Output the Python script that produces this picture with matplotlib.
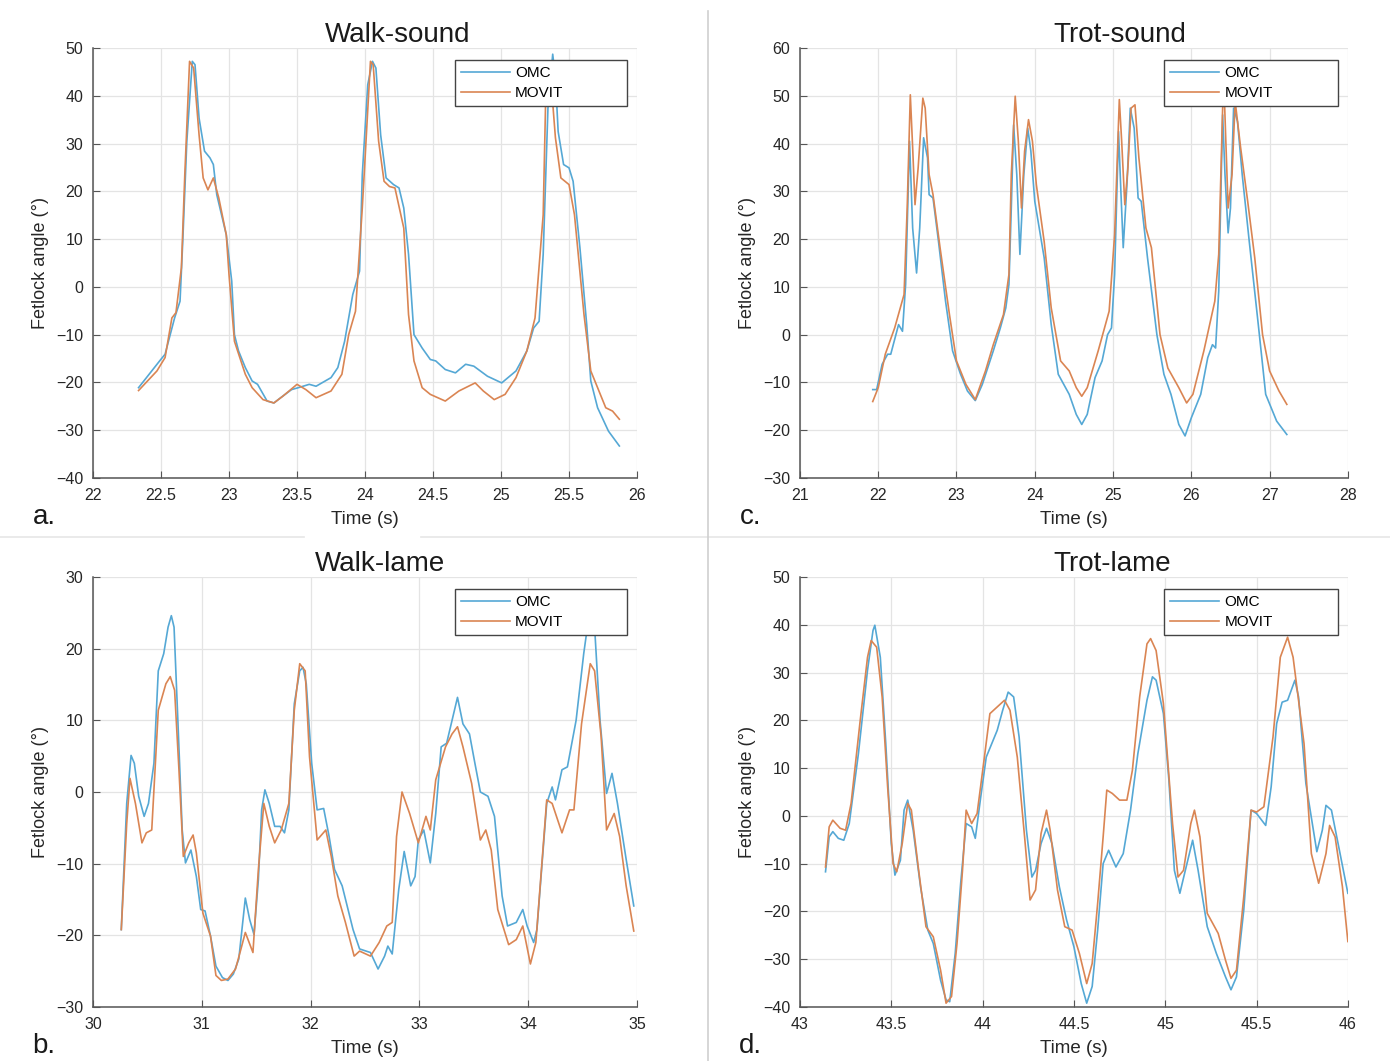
import matplotlib
matplotlib.use("Agg")
import matplotlib.pyplot as plt
from matplotlib.lines import Line2D

plt.rcParams['font.family'] = ['Liberation Sans', 'DejaVu Sans']

OMC_COLOR = "#55a8d5"
MOVIT_COLOR = "#da8553"

# ---- Walk-sound (a) ----
ws_t_omc = [22.335, 22.49, 22.53, 22.60, 22.64, 22.66, 22.69, 22.73, 22.75, 22.78, 22.82, 22.86, 22.885,
            22.91, 22.98, 23.02, 23.04, 23.07, 23.12, 23.17, 23.21, 23.28, 23.33, 23.38, 23.46, 23.51,
            23.59, 23.64, 23.75, 23.80, 23.85, 23.91, 23.96, 23.98, 24.02, 24.055, 24.08, 24.115, 24.155,
            24.21, 24.25, 24.285, 24.32, 24.36, 24.42, 24.48, 24.52, 24.59, 24.665, 24.74, 24.80, 24.90,
            25.005, 25.11, 25.19, 25.24, 25.28, 25.31, 25.345, 25.38, 25.40, 25.42, 25.46, 25.50, 25.53,
            25.58, 25.63, 25.66, 25.71, 25.79, 25.87]
ws_omc = [-21.1, -15.5, -14.1, -6.5, -3.0, 9.5, 30.5, 47.2, 46.5, 35.3, 28.4, 27.0, 25.6,
          19.3, 10.9, 1.2, -10.0, -13.4, -16.9, -19.7, -20.4, -23.9, -24.3, -23.2, -21.5, -21.1,
          -20.4, -20.8, -19.0, -16.9, -11.4, -1.6, 3.3, 23.5, 42.3, 47.2, 45.8, 31.8, 22.8,
          21.4, 20.7, 16.5, 6.8, -10.0, -12.8, -15.2, -15.5, -17.3, -18.0, -16.2, -16.6, -18.7,
          -20.1, -17.6, -13.4, -8.6, -7.2, 6.8, 37.4, 48.7, 43.7, 32.5, 25.6, 24.9, 22.1,
          8.2, -7.9, -19.7, -25.3, -30.2, -33.3]
ws_t_movit = [22.335, 22.47, 22.53, 22.58, 22.61, 22.65, 22.675, 22.71, 22.74, 22.78, 22.81, 22.845,
              22.885, 22.925, 22.98, 23.0, 23.04, 23.12, 23.17, 23.25, 23.33, 23.395, 23.5, 23.565,
              23.64, 23.75, 23.83, 23.88, 23.93, 23.98, 24.04, 24.06, 24.10, 24.14, 24.18, 24.22,
              24.285, 24.32, 24.36, 24.42, 24.48, 24.59, 24.69, 24.81, 24.87, 24.95, 25.03, 25.11,
              25.19, 25.25, 25.31, 25.33, 25.36, 25.40, 25.44, 25.50, 25.54, 25.61, 25.66, 25.71,
              25.77, 25.82, 25.87]
ws_movit = [-21.7, -17.6, -14.8, -6.5, -5.4, 4.0, 23.5, 47.2, 45.8, 31.8, 22.8, 20.3,
            22.8, 18.6, 10.9, 2.6, -11.4, -18.3, -21.1, -23.6, -24.3, -22.9, -20.4, -21.5,
            -23.2, -21.8, -18.3, -10.0, -5.1, 16.5, 47.2, 46.5, 30.5, 22.1, 21.0, 20.7,
            12.3, -5.8, -15.5, -21.1, -22.5, -23.9, -21.8, -20.1, -21.8, -23.6, -22.5, -19.0,
            -13.4, -6.5, 15.1, 41.6, 45.8, 31.2, 22.8, 21.4, 15.1, -5.8, -17.6, -21.1,
            -25.3, -26.0, -27.7]

# ---- Trot-sound (c) ----
ts_t_omc = [21.93, 21.98, 22.05, 22.12, 22.16, 22.26, 22.31, 22.35, 22.40, 22.44, 22.49, 22.53, 22.58,
            22.63, 22.65, 22.70, 22.77, 22.86, 22.95, 23.05, 23.14, 23.24, 23.33, 23.47, 23.56, 23.63,
            23.67, 23.70, 23.73, 23.77, 23.81, 23.86, 23.91, 23.95, 24.0, 24.12, 24.21, 24.30, 24.44,
            24.53, 24.60, 24.67, 24.77, 24.86, 24.93, 24.98, 25.02, 25.07, 25.10, 25.13, 25.18, 25.22,
            25.27, 25.32, 25.36, 25.44, 25.56, 25.65, 25.74, 25.84, 25.92, 26.0, 26.12, 26.21, 26.27,
            26.31, 26.35, 26.40, 26.43, 26.47, 26.50, 26.54, 26.59, 26.65, 26.74, 26.86, 26.95, 27.09,
            27.22]
ts_omc = [-11.5, -11.5, -6.2, -4.1, -4.1, 2.1, 0.7, 10.5, 40.5, 22.3, 12.9, 22.3, 41.2,
          37.0, 29.3, 28.6, 19.5, 7.0, -3.4, -8.2, -11.8, -13.8, -10.4, -3.4, 1.4, 5.6,
          10.5, 26.5, 43.9, 33.5, 16.8, 33.5, 43.2, 38.4, 27.9, 16.1, 2.1, -8.3, -12.5,
          -16.7, -18.8, -16.7, -9.0, -5.5, 0.0, 1.4, 12.6, 42.5, 30.0, 18.2, 32.1, 47.4,
          43.2, 28.6, 27.9, 16.1, 0.0, -8.3, -12.5, -18.8, -21.2, -17.4, -12.5, -4.8, -2.1,
          -2.8, 9.1, 46.0, 33.5, 21.3, 26.5, 47.4, 44.6, 33.5, 19.5, 1.4, -12.5, -18.1,
          -20.9]
ts_t_movit = [21.93, 22.0, 22.09, 22.21, 22.33, 22.37, 22.41, 22.44, 22.47, 22.51, 22.57, 22.60, 22.65,
              22.70, 22.79, 22.91, 23.0, 23.12, 23.24, 23.37, 23.47, 23.60, 23.67, 23.70, 23.75, 23.79,
              23.83, 23.87, 23.92, 23.97, 24.02, 24.12, 24.21, 24.33, 24.44, 24.53, 24.60, 24.67, 24.81,
              24.95, 25.02, 25.08, 25.11, 25.15, 25.19, 25.23, 25.28, 25.33, 25.42, 25.49, 25.60, 25.70,
              25.84, 25.94, 26.02, 26.16, 26.30, 26.35, 26.40, 26.42, 26.47, 26.52, 26.56, 26.63, 26.72,
              26.81, 26.91, 27.0, 27.12, 27.22]
ts_movit = [-14.0, -11.1, -4.1, 1.4, 8.4, 26.5, 50.2, 39.1, 27.2, 34.9, 49.5, 47.4, 33.5,
            29.3, 18.2, 4.2, -5.5, -10.4, -13.6, -7.6, -2.1, 4.2, 12.6, 33.5, 49.9, 40.5,
            26.5, 38.4, 45.0, 40.5, 31.4, 19.5, 5.6, -5.5, -7.6, -11.1, -12.9, -11.1, -3.4,
            4.9, 20.9, 49.2, 40.5, 27.2, 34.9, 47.4, 48.1, 37.0, 22.3, 18.2, 0.0, -7.0,
            -11.1, -14.3, -12.5, -3.4, 7.0, 16.8, 47.4, 50.5, 26.5, 33.5, 48.8, 39.1, 27.9,
            16.1, 0.0, -7.6, -11.8, -14.6]

# ---- Walk-lame (b) ----
wl_t_omc = [30.26, 30.31, 30.35, 30.38, 30.42, 30.47, 30.51, 30.56, 30.60, 30.65, 30.69, 30.72, 30.745,
            30.78, 30.82, 30.85, 30.90, 30.95, 30.99, 31.03, 31.08, 31.13, 31.19, 31.24, 31.29, 31.34,
            31.40, 31.44, 31.48, 31.52, 31.55, 31.58, 31.62, 31.67, 31.72, 31.76, 31.80, 31.85, 31.90,
            31.93, 31.96, 32.01, 32.06, 32.12, 32.17, 32.22, 32.29, 32.39, 32.45, 32.55, 32.62, 32.68,
            32.71, 32.75, 32.81, 32.86, 32.92, 32.96, 32.99, 33.04, 33.10, 33.15, 33.20, 33.25, 33.30,
            33.35, 33.40, 33.46, 33.51, 33.56, 33.63, 33.69, 33.76, 33.81, 33.89, 33.95, 33.99, 34.05,
            34.08, 34.17, 34.22, 34.25, 34.31, 34.36, 34.44, 34.51, 34.56, 34.61, 34.66, 34.72, 34.77,
            34.82, 34.90, 34.97]
wl_omc = [-19.2, -1.6, 5.1, 4.0, -0.6, -3.4, -1.6, 4.0, 16.9, 19.3, 23.0, 24.6, 23.0,
          10.0, -5.3, -9.9, -8.1, -11.8, -16.4, -16.6, -20.1, -24.3, -25.9, -26.3, -25.4, -23.3,
          -14.8, -17.8, -19.9, -12.2, -2.5, 0.3, -1.6, -4.8, -4.8, -5.7, -2.5, 12.3, 16.9,
          17.4, 15.1, 4.0, -2.5, -2.3, -6.2, -10.8, -13.1, -19.2, -21.9, -22.4, -24.7, -22.9,
          -21.5, -22.6, -13.6, -8.3, -13.1, -11.8, -6.7, -5.3, -9.9, -3.0, 6.3, 6.8, 10.0,
          13.2, 9.5, 8.1, 4.0, 0.0, -0.6, -3.4, -14.5, -18.7, -18.2, -16.4, -18.7, -21.0,
          -19.2, -1.6, 0.7, -1.1, 3.1, 3.5, 10.0, 19.3, 24.8, 23.0, 10.0, -0.2, 2.6,
          -1.6, -9.4, -15.9]
wl_t_movit = [30.26, 30.31, 30.34, 30.39, 30.45, 30.49, 30.54, 30.60, 30.67, 30.71, 30.75, 30.79, 30.83,
              30.88, 30.92, 30.95, 31.01, 31.08, 31.13, 31.18, 31.24, 31.31, 31.36, 31.40, 31.47, 31.52,
              31.57, 31.62, 31.67, 31.73, 31.80, 31.85, 31.90, 31.95, 31.99, 32.06, 32.14, 32.19, 32.25,
              32.32, 32.40, 32.45, 32.55, 32.63, 32.70, 32.75, 32.79, 32.84, 32.91, 32.99, 33.06, 33.10,
              33.15, 33.24, 33.30, 33.35, 33.40, 33.48, 33.56, 33.61, 33.66, 33.72, 33.82, 33.89, 33.95,
              34.02, 34.07, 34.17, 34.22, 34.31, 34.38, 34.42, 34.49, 34.57, 34.61, 34.67, 34.72, 34.79,
              34.84, 34.90, 34.97]
wl_movit = [-19.2, -4.4, 1.9, -1.6, -7.1, -5.7, -5.3, 11.4, 15.1, 16.1, 14.2, 3.1, -9.0,
            -7.1, -6.0, -8.5, -16.9, -20.1, -25.6, -26.3, -26.1, -24.7, -21.9, -19.6, -22.4, -10.8,
            -1.6, -4.8, -7.1, -5.3, -1.6, 11.4, 17.9, 16.9, 4.9, -6.7, -5.3, -9.0, -14.5,
            -18.2, -22.9, -22.2, -22.9, -21.0, -18.7, -18.2, -6.2, 0.0, -3.0, -7.1, -3.4, -5.3,
            1.7, 6.3, 8.1, 9.1, 6.3, 1.2, -6.7, -5.3, -8.1, -16.4, -21.3, -20.6, -18.7,
            -24.0, -21.0, -1.1, -1.6, -5.7, -2.5, -2.5, 9.5, 17.9, 16.9, 7.7, -5.3, -3.0,
            -6.2, -13.1, -19.4]

# ---- Trot-lame (d) ----
tl_t_omc = [43.14, 43.16, 43.18, 43.21, 43.24, 43.27, 43.32, 43.37, 43.40, 43.41, 43.44, 43.47, 43.50,
            43.52, 43.55, 43.57, 43.59, 43.62, 43.66, 43.70, 43.73, 43.77, 43.80, 43.82, 43.85, 43.88,
            43.91, 43.94, 43.96, 43.99, 44.02, 44.05, 44.08, 44.11, 44.14, 44.17, 44.20, 44.24, 44.27,
            44.29, 44.32, 44.35, 44.38, 44.42, 44.46, 44.50, 44.54, 44.57, 44.60, 44.63, 44.66, 44.69,
            44.73, 44.77, 44.81, 44.85, 44.90, 44.93, 44.95, 44.99, 45.02, 45.05, 45.08, 45.11, 45.15,
            45.18, 45.23, 45.28, 45.33, 45.36, 45.39, 45.43, 45.47, 45.50, 45.55, 45.58, 45.61, 45.64,
            45.67, 45.69, 45.71, 45.73, 45.77, 45.83, 45.86, 45.88, 45.91, 45.95, 46.0]
tl_omc = [-11.7, -4.4, -3.3, -4.7, -5.1, -1.6, 13.0, 30.5, 38.8, 39.9, 33.2, 15.1, -5.8,
          -12.4, -9.3, 1.2, 3.3, -3.0, -14.8, -23.9, -26.7, -34.4, -38.5, -38.9, -28.8, -14.1,
          -1.6, -2.3, -4.7, 4.0, 12.3, 15.1, 17.9, 22.1, 25.9, 24.9, 16.5, -3.0, -12.8,
          -11.4, -5.8, -2.6, -5.8, -14.8, -21.8, -27.4, -35.1, -39.2, -35.7, -23.9, -10.0, -7.2,
          -10.7, -7.9, 1.2, 13.0, 24.2, 29.1, 28.4, 21.4, 7.5, -11.4, -16.2, -11.4, -5.1,
          -11.4, -23.2, -28.8, -33.7, -36.4, -33.7, -19.7, 1.2, 0.5, -2.0, 6.1, 19.3, 23.8,
          24.2, 26.3, 28.4, 24.9, 6.8, -7.5, -3.0, 2.2, 1.2, -6.5, -16.2]
tl_t_movit = [43.14, 43.16, 43.18, 43.22, 43.25, 43.28, 43.33, 43.37, 43.39, 43.42, 43.45, 43.48, 43.51,
              43.53, 43.56, 43.59, 43.61, 43.65, 43.69, 43.73, 43.77, 43.80, 43.83, 43.86, 43.89, 43.91,
              43.94, 43.97, 44.01, 44.04, 44.08, 44.12, 44.15, 44.19, 44.23, 44.26, 44.29, 44.32, 44.35,
              44.37, 44.41, 44.45, 44.49, 44.53, 44.57, 44.60, 44.63, 44.66, 44.68, 44.71, 44.75, 44.79,
              44.82, 44.86, 44.90, 44.92, 44.95, 44.99, 45.04, 45.07, 45.10, 45.14, 45.16, 45.19, 45.23,
              45.29, 45.33, 45.36, 45.39, 45.43, 45.47, 45.50, 45.54, 45.59, 45.63, 45.67, 45.70, 45.76,
              45.80, 45.84, 45.88, 45.90, 45.93, 45.97, 46.0]
tl_movit = [-10.7, -2.3, -0.9, -2.6, -3.0, 2.6, 20.0, 33.2, 36.7, 35.3, 24.9, 6.1, -10.0,
            -11.7, -5.8, 2.6, 1.2, -11.4, -23.2, -25.3, -32.3, -39.2, -37.8, -26.7, -11.4, 1.2,
            -1.6, 0.5, 12.3, 21.4, 22.8, 24.2, 22.1, 12.3, -4.4, -17.6, -15.5, -3.7, 1.2,
            -3.0, -15.5, -23.2, -23.9, -28.8, -35.1, -30.9, -18.3, -4.4, 5.4, 4.7, 3.3, 3.3,
            9.5, 24.9, 36.0, 37.1, 34.6, 23.5, -1.6, -12.8, -11.4, -1.6, 1.2, -4.4, -20.4,
            -24.6, -30.2, -34.0, -32.3, -16.9, 1.2, 0.8, 1.9, 16.5, 33.2, 37.4, 33.2, 15.1,
            -7.9, -14.1, -7.9, -2.0, -4.4, -14.8, -26.3]

panels = [
    # title, letter, rect, title x, t_omc, omc, t_movit, movit, xlim, xticks, ylim, yticks
    ("Walk-sound", "a.", [0.0669, 0.5495, 0.3914, 0.4053], 0.56, ws_t_omc, ws_omc, ws_t_movit, ws_movit,
     (22, 26), [22, 22.5, 23, 23.5, 24, 24.5, 25, 25.5, 26], (-40, 50), range(-40, 51, 10)),
    ("Trot-sound", "c.", [0.5755, 0.5495, 0.3942, 0.4053], 0.584, ts_t_omc, ts_omc, ts_t_movit, ts_movit,
     (21, 28), range(21, 29), (-30, 60), range(-30, 61, 10)),
    ("Walk-lame", "b.", [0.0669, 0.0509, 0.3914, 0.4053], 0.528, wl_t_omc, wl_omc, wl_t_movit, wl_movit,
     (30, 35), range(30, 36), (-30, 30), range(-30, 31, 10)),
    ("Trot-lame", "d.", [0.5755, 0.0509, 0.3942, 0.4053], 0.569, tl_t_omc, tl_omc, tl_t_movit, tl_movit,
     (43, 46), [43, 43.5, 44, 44.5, 45, 45.5, 46], (-40, 50), range(-40, 51, 10)),
]

fig = plt.figure(figsize=(13.9, 10.61), dpi=100)

# panel separators (the left one is broken where the original screenshot was cut)
sep_y = 1 - 537 / 1061
fig.add_artist(Line2D([0.0, 304 / 1390], [sep_y] * 2, color="#e6e6e6", lw=1.2))
fig.add_artist(Line2D([421 / 1390, 1.0], [sep_y] * 2, color="#e6e6e6", lw=1.2))
fig.add_artist(Line2D([708 / 1390] * 2, [0.0, 0.99], color="#cfcfcf", lw=1.2))

for title, letter, rect, tx, t1, y1, t2, y2, xlim, xticks, ylim, yticks in panels:
    ax = fig.add_axes(rect)
    ax.set_facecolor("white")
    ax.plot(t1, y1, color=OMC_COLOR, lw=1.2, label="OMC")
    ax.plot(t2, y2, color=MOVIT_COLOR, lw=1.2, label="MOVIT")
    ax.set_xlim(*xlim)
    ax.set_ylim(*ylim)
    ax.set_xticks(list(xticks))
    ax.set_yticks(list(yticks))
    ax.set_xticklabels([f"{v:g}" for v in xticks])
    ax.grid(True, color="#e4e4e4", lw=0.9)
    ax.set_axisbelow(True)
    for s in ["top", "right"]:
        ax.spines[s].set_visible(False)
    for s in ["left", "bottom"]:
        ax.spines[s].set_color("#555555")
        ax.spines[s].set_linewidth(1.1)
    ax.tick_params(direction="in", length=5, color="#555555", labelsize=11.5,
                   labelcolor="#262626", pad=7)
    ax.set_title(title, fontsize=20, color="#1a1a1a", pad=4, x=tx)
    ax.set_xlabel("Time (s)", fontsize=13.5, color="#262626", labelpad=6)
    ax.set_ylabel("Fetlock angle (°)", fontsize=13, color="#262626", labelpad=5)
    leg = ax.legend(loc="upper left", bbox_to_anchor=(0.665, 0.972, 0.317, 0.0), mode="expand",
                    borderaxespad=0, fontsize=11, handlelength=3.2, handletextpad=0.35,
                    borderpad=0.4, labelspacing=0.4, fancybox=False, framealpha=1,
                    edgecolor="#444444")
    leg.get_frame().set_linewidth(1.0)
    # panel letter, placed below-left of the axes
    ax.text(-0.09, -0.09, letter, transform=ax.transAxes, fontsize=20,
            color="#1a1a1a", ha="center", va="center")

fig.savefig("out.png", dpi=100, facecolor="white")
